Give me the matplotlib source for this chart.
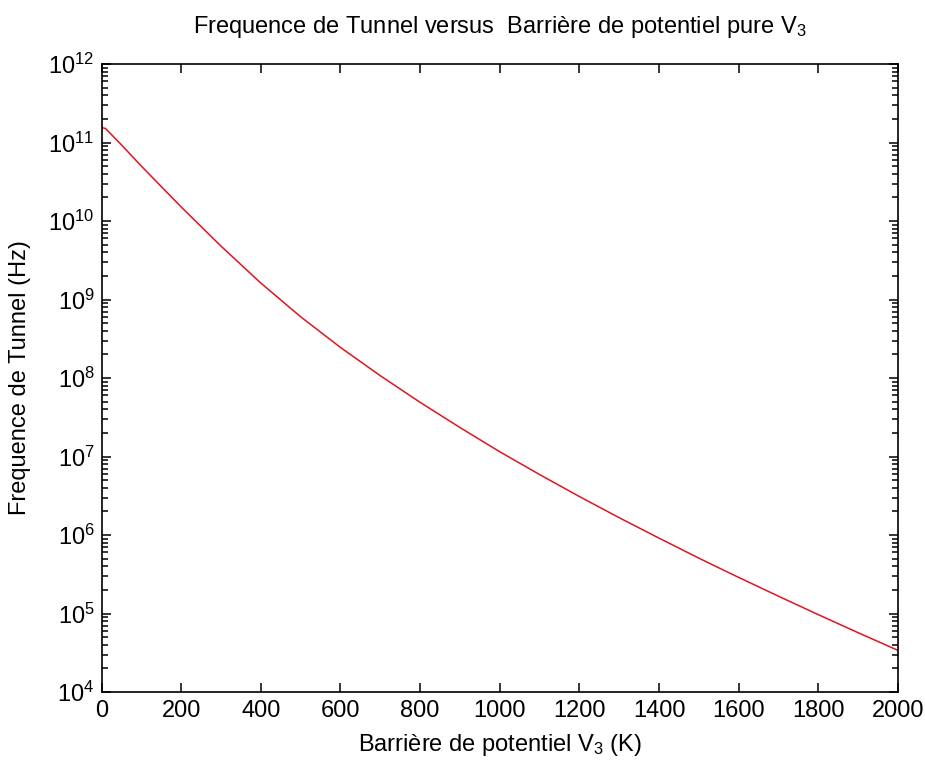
import numpy as np
import matplotlib
matplotlib.use('Agg')
from matplotlib import pyplot as plt
from matplotlib.ticker import FixedLocator, LogLocator, NullFormatter

# barrier height V3 (K) and tunnel frequency (Hz)
barrier = [0, 10, 50, 100, 150, 200, 300, 400, 500, 600, 700, 800, 900, 1000,
           1100, 1200, 1300, 1400, 1500, 1600, 1700, 1800, 1900, 2000]
freq = [1.55e11, 1.51e11, 9.33e10, 5.01e10, 2.75e10, 1.51e10, 4.79e9, 1.62e9,
        6.03e8, 2.45e8, 1.07e8, 4.90e7, 2.34e7, 1.15e7, 5.89e6, 3.09e6,
        1.66e6, 9.12e5, 5.07e5, 2.88e5, 1.66e5, 9.66e4, 5.69e4, 3.39e4]

xticks = np.arange(0, 2001, 200)
yticks = [10.0 ** k for k in range(4, 13)]

plt.rcParams['font.family'] = ['Liberation Sans', 'DejaVu Sans']
plt.rcParams['mathtext.fontset'] = 'custom'
plt.rcParams['mathtext.rm'] = 'Liberation Sans'
plt.rcParams['mathtext.it'] = 'Liberation Sans'

fig = plt.figure(figsize=(9.25, 7.64), dpi=100)
ax = fig.add_axes([101.5 / 925, 72 / 764, 796.5 / 925, 628 / 764])

ax.semilogy(barrier, freq, color='#e0141e', linewidth=1.1)

ax.set_xlim(0, 2000)
ax.set_ylim(1e4, 1e12)
ax.set_xticks(xticks)
ax.yaxis.set_major_locator(FixedLocator(yticks))
ax.yaxis.set_minor_locator(LogLocator(base=10, subs=np.arange(2, 10), numticks=20))
ax.yaxis.set_minor_formatter(NullFormatter())

ax.tick_params(which='both', direction='in', top=True, right=True, width=1.1,
               labelsize=17, color='black')
ax.tick_params(which='major', length=6.5, pad=6)
ax.tick_params(which='minor', length=4)
ax.tick_params(axis='y', which='major', pad=5)
for s in ax.spines.values():
    s.set_linewidth(1.2)

ax.set_xlabel('Barrière de potentiel V$_3$ (K)', fontsize=17, va='top')
ax.xaxis.set_label_coords(0.5, -0.064)
ax.set_ylabel('Frequence de Tunnel (Hz)', fontsize=17)
ax.yaxis.set_label_coords(-0.089, 0.5)

ax.text(0.5, (692 - 33) / 628, 'Frequence de Tunnel versus  Barrière de potentiel pure V$_3$',
        transform=ax.transAxes, ha='center', va='baseline', fontsize=17)

fig.savefig('out.png', dpi=100)
